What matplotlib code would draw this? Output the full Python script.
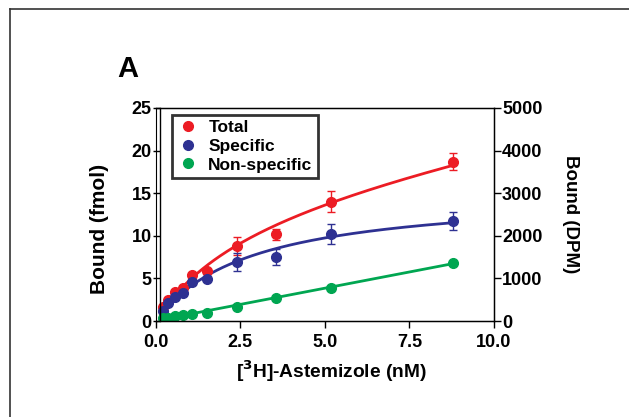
import numpy as np
import matplotlib
matplotlib.use('Agg')
import matplotlib.pyplot as plt
from matplotlib.lines import Line2D

plt.rcParams['font.family'] = ['Liberation Sans', 'DejaVu Sans']
plt.rcParams['font.weight'] = 'bold'

# concentration of [3H]-astemizole (nM)
conc = [0.22, 0.36, 0.56, 0.8, 1.07, 1.5, 2.4, 3.55, 5.18, 8.8]

total = [1.6, 2.5, 3.4, 3.9, 5.4, 5.9, 8.8, 10.2, 14.0, 18.7]
total_err = [0.2, 0.2, 0.2, 0.2, 0.2, 0.2, 1.1, 0.65, 1.2, 1.0]

specific = [1.2, 2.1, 2.8, 3.3, 4.6, 4.9, 6.9, 7.5, 10.2, 11.7]
specific_err = [0.2, 0.2, 0.2, 0.2, 0.2, 0.2, 1.05, 0.9, 1.2, 1.05]

nonspec = [0.35, 0.4, 0.6, 0.7, 0.8, 0.9, 1.65, 2.7, 3.85, 6.8]
nonspec_err = [0.1, 0.1, 0.1, 0.1, 0.1, 0.1, 0.15, 0.15, 0.2, 0.2]

# fit parameters (one site + linear non-specific)
bmax = 15.2
kd = 2.8
ns_slope = 0.76
ns_int = 0.05

red = '#ec1c24'
blue = '#2e3192'
green = '#00a651'

fig = plt.figure(figsize=(6.29, 4.17), dpi=100)
ax = fig.add_axes([0.248, 0.2302, 0.537, 0.511])

xf = np.linspace(conc[0], conc[-1], 200)
spec_fit = bmax * xf / (kd + xf)
ns_fit = ns_slope * xf + ns_int
ax.plot(xf, spec_fit + ns_fit, color=red, lw=2)
ax.plot(xf, spec_fit, color=blue, lw=2)
ax.plot(xf, ns_fit, color=green, lw=2)

ax.errorbar(conc, total, yerr=total_err, fmt='o', color=red, ms=7, capsize=3, elinewidth=1)
ax.errorbar(conc, specific, yerr=specific_err, fmt='o', color=blue, ms=7, capsize=3, elinewidth=1)
ax.errorbar(conc, nonspec, yerr=nonspec_err, fmt='o', color=green, ms=7, capsize=3, elinewidth=1)

ax.set_xlim(0, 10)
ax.set_ylim(0, 25)
ax.set_xticks([0, 2.5, 5, 7.5, 10])
ax.set_xticklabels(['0.0', '2.5', '5.0', '7.5', '10.0'])
ax.set_yticks([0, 5, 10, 15, 20, 25])
ax.spines['left'].set_position(('data', 0.12))
for s in ax.spines.values():
    s.set_linewidth(1)
ax.tick_params(labelsize=13, length=5, width=1, pad=1)
ax.tick_params(axis='x', pad=4)
ax.set_xlabel('[$\\mathbf{^3}$H]-Astemizole (nM)', fontsize=13.8, fontweight='bold')
ax.xaxis.set_label_coords(0.52, -0.175)
ax.set_ylabel('Bound (fmol)', fontsize=15, fontweight='bold')
ax.yaxis.set_label_coords(-0.14, 0.43)

ax2 = ax.twinx()
ax2.set_ylim(0, 5000)
ax2.set_yticks([0, 1000, 2000, 3000, 4000, 5000])
ax2.tick_params(labelsize=13, length=5, width=1, pad=1)
ax2.set_ylabel('Bound (DPM)', fontsize=13.5, fontweight='bold', rotation=270, labelpad=26)

handles = [Line2D([], [], ls='none', marker='o', ms=7, color=c) for c in (red, blue, green)]
leg = ax.legend(handles, ['Total', 'Specific', 'Non-specific'], loc='upper left',
                bbox_to_anchor=(0.047, 0.967), borderaxespad=0, fancybox=False,
                edgecolor='black', fontsize=12.5, handletextpad=0.5, borderpad=0.3,
                labelspacing=0.2, handlelength=1.3)
leg.get_frame().set_linewidth(2)

fig.text(0.187, 0.815, 'A', fontsize=21, fontweight='bold')

# outer frame
fig.add_artist(Line2D([10/629, 10/629], [0, 1 - 9/417], color='#333333', lw=1.2))
fig.add_artist(Line2D([10/629, 1], [1 - 9/417, 1 - 9/417], color='#333333', lw=1.2))

fig.savefig('out.png', dpi=100)
